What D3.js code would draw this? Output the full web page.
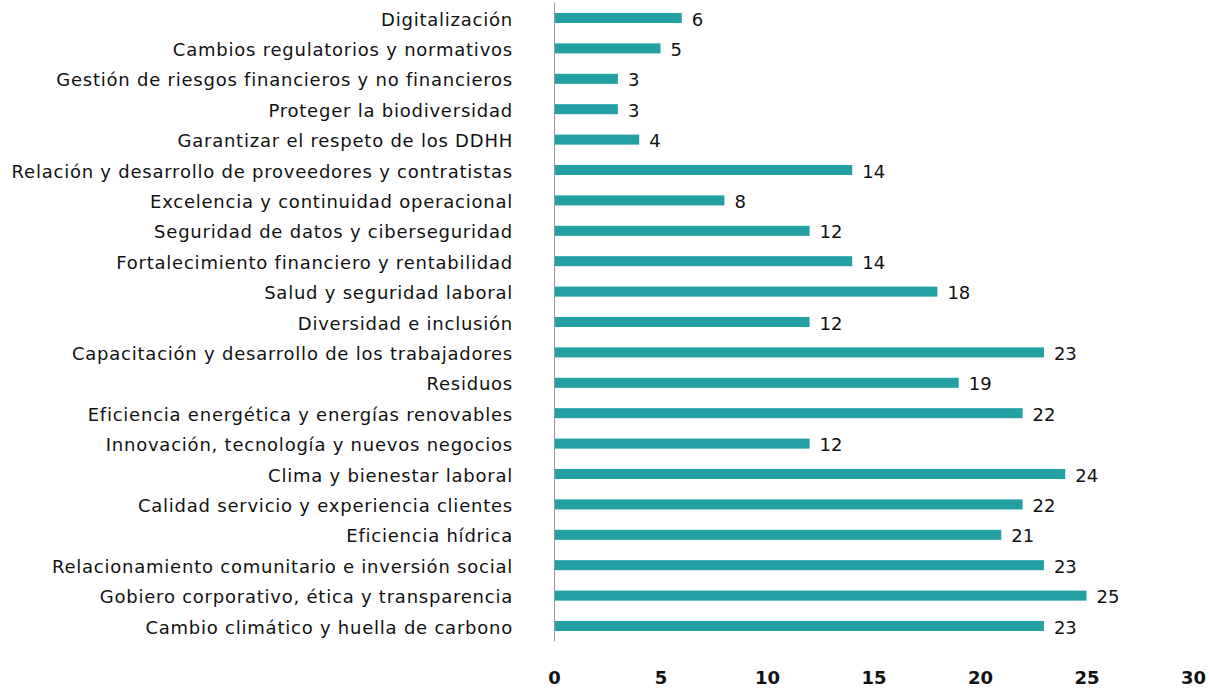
<!DOCTYPE html>
<html><head><meta charset="utf-8">
<script src="https://cdn.jsdelivr.net/npm/d3@7"></script>
<style>body{margin:0;background:#fff}</style>
</head><body>
<svg id="chart" width="1210" height="689"></svg>
<script>
const categories = [
  "Digitalización",
  "Cambios regulatorios y normativos",
  "Gestión de riesgos financieros y no financieros",
  "Proteger la biodiversidad",
  "Garantizar el respeto de los DDHH",
  "Relación y desarrollo de proveedores y contratistas",
  "Excelencia y continuidad operacional",
  "Seguridad de datos y ciberseguridad",
  "Fortalecimiento financiero y rentabilidad",
  "Salud y seguridad laboral",
  "Diversidad e inclusión",
  "Capacitación y desarrollo de los trabajadores",
  "Residuos",
  "Eficiencia energética y energías renovables",
  "Innovación, tecnología y nuevos negocios",
  "Clima y bienestar laboral",
  "Calidad servicio y experiencia clientes",
  "Eficiencia hídrica",
  "Relacionamiento comunitario e inversión social",
  "Gobiero corporativo, ética y transparencia",
  "Cambio climático y huella de carbono"
];
const values = [6,5,3,3,4,14,8,12,14,18,12,23,19,22,12,24,22,21,23,25,23];
const xTicks = [0,5,10,15,20,25,30];

const svg = d3.select("#chart");
const font = "DejaVu Sans, sans-serif";
const x = d3.scaleLinear().domain([0,30]).range([554,1193]);
const y = d3.scaleBand().domain(categories).range([2.8,641.2]).paddingInner(0.67).paddingOuter(0.335);
const data = categories.map((c,i)=>({c, v: values[i]}));

svg.selectAll("rect.bar").data(data).join("rect")
  .attr("class","bar")
  .attr("x", x(0)).attr("y", d=>y(d.c))
  .attr("width", d=>x(d.v)-x(0)).attr("height", y.bandwidth())
  .attr("fill","#22a0a3");

svg.append("line").attr("x1",x(0)+0.5).attr("x2",x(0)+0.5)
  .attr("y1",2.8).attr("y2",641.2).attr("stroke","#999").attr("stroke-width",1);

svg.selectAll("text.cat").data(data).join("text")
  .attr("class","cat")
  .attr("x", 513).attr("y", d=>y(d.c)+y.bandwidth()/2)
  .attr("dy","0.42em").attr("text-anchor","end")
  .attr("font-family",font).attr("font-size",18).attr("letter-spacing","0.77px").attr("fill","#111")
  .text(d=>d.c);

svg.selectAll("text.val").data(data).join("text")
  .attr("class","val")
  .attr("x", d=>x(d.v)+10).attr("y", d=>y(d.c)+y.bandwidth()/2)
  .attr("dy","0.42em").attr("text-anchor","start")
  .attr("font-family",font).attr("font-size",18).attr("fill","#111")
  .text(d=>d.v);

const xAxis = d3.axisBottom(x).tickValues(xTicks).tickSize(0).tickPadding(0);
const gx = svg.append("g").attr("transform","translate(0,671)").call(xAxis);
gx.select(".domain").remove();
gx.selectAll("text").attr("font-family",font).attr("font-size",18)
  .attr("font-weight","bold").attr("fill","#111").attr("dy","0.71em");
</script>
</body></html>
